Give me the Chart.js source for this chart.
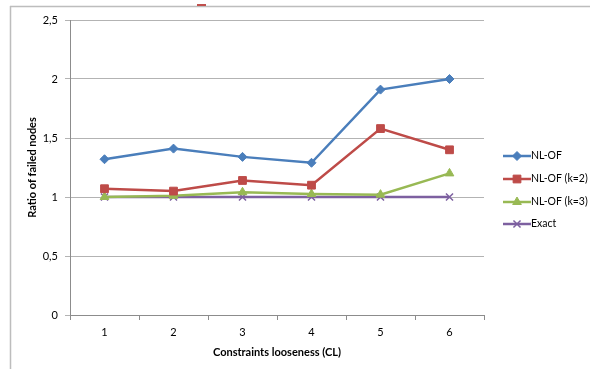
<!DOCTYPE html>
<html>
<head>
<meta charset="utf-8">
<script src="https://cdn.jsdelivr.net/npm/chart.js@4"></script>
<style>
html,body{margin:0;padding:0;background:#fff;}
#wrap{width:590px;height:369px;position:relative;}
</style>
</head>
<body>
<div id="wrap"><canvas id="c" width="590" height="369"></canvas></div>
<script>
const categories = ['1','2','3','4','5','6'];
const nlof = [1.32, 1.41, 1.34, 1.29, 1.91, 2.0];
const nlofK2 = [1.07, 1.05, 1.14, 1.10, 1.58, 1.40];
const nlofK3 = [1.00, 1.01, 1.04, 1.025, 1.02, 1.20];
const exact = [1, 1, 1, 1, 1, 1];
const seriesNames = ['NL-OF', 'NL-OF (k=2)', 'NL-OF (k=3)', 'Exact'];
const xTitle = 'Constraints looseness (CL)';
const yTitle = 'Ratio of failed nodes';

const FONT = "Lato, 'Open Sans', sans-serif";

const decor = {
  id: 'decor',
  beforeDraw(chart) {
    const ctx = chart.ctx;
    ctx.save();
    ctx.strokeStyle = '#bdbdbd';
    ctx.lineWidth = 1.5;
    ctx.beginPath();
    ctx.moveTo(10, 6.5); ctx.lineTo(590, 6.5);
    ctx.moveTo(10.5, 6); ctx.lineTo(10.5, 369);
    ctx.stroke();
    ctx.fillStyle = '#c0504d';
    ctx.fillRect(197, 4, 9, 2);
    ctx.restore();
  },
  afterDraw(chart) {
    const ctx = chart.ctx;
    const ca = chart.chartArea;
    ctx.save();
    ctx.fillStyle = '#000';
    ctx.font = "bold 11px " + FONT;
    ctx.textAlign = 'center';
    ctx.textBaseline = 'middle';
    ctx.fillText(xTitle, (ca.left + ca.right) / 2, 352);
    ctx.translate(32, (ca.top + ca.bottom) / 2);
    ctx.rotate(-Math.PI / 2);
    ctx.fillText(yTitle, 0, 0);
    ctx.restore();
    // legend
    const ys = [156, 179, 202, 224];
    chart.data.datasets.forEach((ds, i) => {
      const y = ys[i];
      ctx.save();
      ctx.strokeStyle = ds.borderColor;
      ctx.lineWidth = 2.5;
      ctx.beginPath();
      ctx.moveTo(503, y); ctx.lineTo(531, y);
      ctx.stroke();
      ctx.fillStyle = ds.borderColor;
      ctx.strokeStyle = ds.borderColor;
      ctx.lineWidth = ds.pointBorderWidth || 1;
      Chart.helpers.drawPoint(ctx, {
        pointStyle: ds.pointStyle,
        radius: ds.pointRadius,
        rotation: 0,
        borderWidth: ds.pointBorderWidth || 1
      }, 517, y);
      ctx.fillStyle = '#000';
      ctx.font = "10.5px " + FONT;
      ctx.textAlign = 'left';
      ctx.textBaseline = 'middle';
      ctx.fillText(ds.label, 531, y);
      ctx.restore();
    });
  }
};

function mk(label, data, color, style, radius) {
  return {
    label, data,
    borderColor: color,
    backgroundColor: color,
    pointBackgroundColor: color,
    pointBorderColor: color,
    pointStyle: style,
    pointRadius: radius,
    pointHoverRadius: radius,
    pointBorderWidth: style === 'crossRot' ? 1.5 : 1,
    borderWidth: 2.5,
    tension: 0,
    fill: false
  };
}

const chart = new Chart(document.getElementById('c'), {
  type: 'line',
  data: {
    labels: categories,
    datasets: [
      mk(seriesNames[0], nlof, '#4a7ebb', 'rectRot', 4.5),
      mk(seriesNames[1], nlofK2, '#be4b48', 'rect', 5.5),
      mk(seriesNames[2], nlofK3, '#98b954', 'triangle', 5),
      mk(seriesNames[3], exact, '#7d60a0', 'crossRot', 5)
    ]
  },
  options: {
    responsive: false,
    animation: false,
    devicePixelRatio: 1,
    layout: { padding: { left: 10, right: 106, top: 20, bottom: 0 } },
    plugins: { legend: { display: false }, tooltip: { enabled: false } },
    scales: {
      x: {
        type: 'category',
        offset: true,
        grid: { display: true, offset: true, drawOnChartArea: false, drawTicks: true, tickLength: 5, color: '#8c8c8c' },
        border: { display: true, color: '#8c8c8c', width: 1 },
        ticks: { color: '#000', font: { family: FONT, size: 11 }, padding: 6, maxRotation: 0 },
        afterFit(s) { s.height = 54; }
      },
      y: {
        min: 0, max: 2.5,
        grid: { color: '#b3b3b3', drawTicks: true, tickLength: 5, lineWidth: 1 },
        border: { display: true, color: '#8c8c8c', width: 1 },
        ticks: {
          stepSize: 0.5,
          color: '#000',
          font: { family: FONT, size: 11 },
          padding: 7,
          callback: v => String(v).replace('.', ',')
        },
        afterFit(s) { s.width = 60; }
      }
    }
  },
  plugins: [decor]
});
</script>
</body>
</html>
